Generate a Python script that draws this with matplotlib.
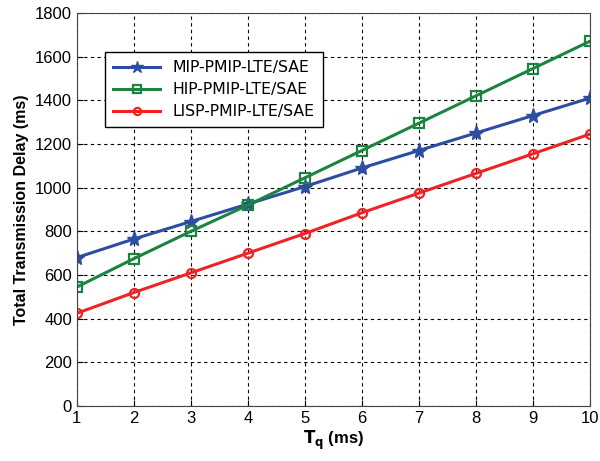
import numpy as np
import matplotlib.pyplot as plt

tq = [1, 2, 3, 4, 5, 6, 7, 8, 9, 10]
mip = [680, 765, 845, 925, 1005, 1090, 1170, 1250, 1330, 1410]
hip = [545, 675, 800, 920, 1045, 1170, 1295, 1420, 1545, 1670]
lisp = [425, 520, 610, 700, 790, 885, 975, 1065, 1155, 1245]
labels = ['MIP-PMIP-LTE/SAE', 'HIP-PMIP-LTE/SAE', 'LISP-PMIP-LTE/SAE']

plt.rcParams['font.family'] = ['Liberation Sans', 'DejaVu Sans']

fig = plt.figure(figsize=(6, 4.61), dpi=100)
ax = fig.add_axes([0.128, 0.119, 0.855, 0.853])

ax.plot(tq, mip, color='#2d4da3', lw=2.2, marker='*', ms=11, label=labels[0])
ax.plot(tq, hip, color='#1b8540', lw=2.2, marker='s', ms=7, mfc='none', mew=1.6, label=labels[1])
ax.plot(tq, lisp, color='#ee2424', lw=2.2, marker='o', ms=6.5, mfc='none', mew=1.6, label=labels[2])

ax.set_xlim(1, 10)
ax.set_ylim(0, 1800)
ax.set_xticks(tq)
ax.set_yticks(np.arange(0, 1801, 200))
ax.tick_params(direction='in', labelsize=12, length=4)
ax.grid(True, color='black', linestyle=(0, (3, 3)), lw=0.8)
for s in ax.spines.values():
    s.set_color('#444444')

ax.set_xlabel(r'$\mathbf{T_q}$ (ms)', fontsize=12, fontweight='bold', labelpad=2)
ax.set_ylabel('Total Transmission Delay (ms)', fontsize=11.5, fontweight='bold')

leg = ax.legend(loc='upper left', bbox_to_anchor=(0.04, 0.92),
                prop={'family': 'DejaVu Sans', 'size': 11.3}, fancybox=False,
                edgecolor='black', framealpha=1, handlelength=3.0, borderpad=0.5,
                labelspacing=0.45, markerscale=0.8)
leg.get_frame().set_linewidth(1.0)

fig.savefig('out.png', dpi=100)
